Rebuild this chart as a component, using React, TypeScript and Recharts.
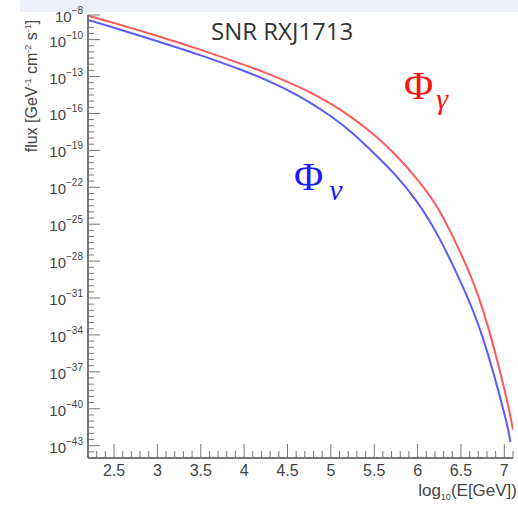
import React from 'react';
import { LineChart, Line, XAxis, YAxis } from 'recharts';

// values: log10(E/GeV) and log10(flux)
const gammaEnergy = [2.2, 2.5, 3, 3.5, 4, 4.25, 4.5, 4.75, 5, 5.25, 5.5, 5.75, 6, 6.25, 6.5, 6.75, 7, 7.1];
const gammaFlux = [-8.05, -8.65, -9.7, -10.83, -12.05, -12.7, -13.43, -14.25, -15.23, -16.38, -17.75, -19.4, -21.4, -23.9, -27.4, -31.9, -38.4, -41.7];
const nuEnergy = [2.2, 2.5, 3, 3.5, 4, 4.25, 4.5, 4.75, 5, 5.25, 5.5, 5.75, 6, 6.25, 6.5, 6.75, 7, 7.07];
const nuFlux = [-8.4, -9.03, -10.13, -11.28, -12.55, -13.28, -14.1, -15.08, -16.23, -17.6, -19.25, -21.05, -23.25, -26.13, -29.75, -34.2, -40.4, -42.7];

const xLabels = [2.5, 3, 3.5, 4, 4.5, 5, 5.5, 6, 6.5, 7];
const yLabels = [-8, -10, -13, -16, -19, -22, -25, -28, -31, -34, -37, -40, -43];

const X_MIN = 2.2;
const X_MAX = 7.1;
const Y_MIN = -44;
const Y_MAX = -8;

const gammaData = gammaEnergy.map((e, i) => ({ e, f: gammaFlux[i] }));
const nuData = nuEnergy.map((e, i) => ({ e, f: nuFlux[i] }));

const xTicks: number[] = [];
for (let i = 22; i <= 71; i++) xTicks.push(i / 10);
const yTicks: number[] = [];
for (let i = Y_MIN * 2; i <= Y_MAX * 2; i++) yTicks.push(i / 2);

const AXIS = '#777';
const LABEL = '#444';
const SANS = 'Liberation Sans, Arial, sans-serif';

const XTick = (props: any) => {
  const { x, y, payload } = props;
  const major = xLabels.some((v) => Math.abs(v - payload.value) < 1e-6);
  return (
    <g>
      <line x1={x} x2={x} y1={y} y2={y - (major ? 14 : 7)} stroke={AXIS} strokeWidth={1} />
      {major && (
        <text x={x} y={y + 18} textAnchor="middle" fontSize={16} fill={LABEL} fontFamily={SANS}>
          {payload.value}
        </text>
      )}
    </g>
  );
};

const YTick = (props: any) => {
  const { x, y, payload } = props;
  const major = yLabels.includes(payload.value);
  return (
    <g>
      <line x1={x} x2={x + (major ? 12 : 6)} y1={y} y2={y} stroke={AXIS} strokeWidth={1} />
      {major && (
        <text x={x - 5} y={y + 7} textAnchor="end" fontSize={15} fill={LABEL} fontFamily={SANS}>
          10
          <tspan fontSize={10} dy={-8}>{'\u2212' + Math.abs(payload.value)}</tspan>
        </text>
      )}
    </g>
  );
};

const App: React.FC = () => {
  return (
    <div style={{ position: 'absolute', left: 0, top: 0, width: 518, height: 507, background: '#fff' }}>
      <div style={{ position: 'absolute', left: 20, top: 0, width: 498, height: 12, background: '#eef0f8' }} />
      <LineChart
        width={518}
        height={507}
        margin={{ top: 15, right: 5, left: 0, bottom: 0 }}
        style={{ position: 'absolute', left: 0, top: 0 }}
      >
        <XAxis
          dataKey="e"
          type="number"
          domain={[X_MIN, X_MAX]}
          ticks={xTicks}
          interval={0}
          allowDataOverflow
          height={49}
          tickSize={0}
          tickMargin={0}
          tickLine={false}
          axisLine={{ stroke: AXIS, strokeWidth: 2 }}
          tick={<XTick />}
        />
        <XAxis
          xAxisId="top"
          orientation="top"
          type="number"
          domain={[X_MIN, X_MAX]}
          height={0}
          tick={false}
          tickLine={false}
          axisLine={{ stroke: '#aaa', strokeWidth: 1.5 }}
        />
        <YAxis
          dataKey="f"
          type="number"
          domain={[Y_MIN, Y_MAX]}
          ticks={yTicks}
          interval={0}
          allowDataOverflow
          width={88}
          tickSize={0}
          tickMargin={0}
          tickLine={false}
          axisLine={{ stroke: AXIS, strokeWidth: 2 }}
          tick={<YTick />}
        />
        <YAxis
          yAxisId="right"
          orientation="right"
          type="number"
          domain={[Y_MIN, Y_MAX]}
          width={0}
          tick={false}
          tickLine={false}
          axisLine={{ stroke: '#aaa', strokeWidth: 1.5 }}
        />
        <Line
          data={gammaData}
          dataKey="f"
          type="natural"
          stroke="#ff5a5a"
          strokeWidth={2}
          dot={false}
          isAnimationActive={false}
        />
        <Line
          data={nuData}
          dataKey="f"
          type="natural"
          stroke="#5a5aff"
          strokeWidth={2}
          dot={false}
          isAnimationActive={false}
        />
      </LineChart>

      <div
        style={{
          position: 'absolute',
          left: 32,
          top: 86,
          transform: 'translate(-50%, -50%) rotate(-90deg)',
          whiteSpace: 'nowrap',
          fontFamily: SANS,
          fontSize: 16,
          color: LABEL,
        }}
      >
        flux [GeV<sup style={{ fontSize: 9 }}>-1</sup> cm<sup style={{ fontSize: 9 }}>-2</sup> s<sup style={{ fontSize: 9 }}>-1</sup>]
      </div>

      <div
        style={{
          position: 'absolute',
          right: 1,
          top: 481,
          whiteSpace: 'nowrap',
          fontFamily: SANS,
          fontSize: 17,
          color: LABEL,
        }}
      >
        log<sub style={{ fontSize: 9 }}>10</sub>(E[GeV])
      </div>

      <div
        style={{
          position: 'absolute',
          left: 211,
          top: 14,
          whiteSpace: 'nowrap',
          fontFamily: 'Open Sans, sans-serif',
          fontSize: 24,
          color: '#333',
        }}
      >
        SNR RXJ1713
      </div>

      <div
        style={{
          position: 'absolute',
          left: 404,
          top: 66,
          whiteSpace: 'nowrap',
          fontFamily: 'Liberation Serif, serif',
          fontSize: 40,
          color: '#ff1010',
          lineHeight: 1,
        }}
      >
        Φ<span style={{ fontStyle: 'italic', fontSize: 30, position: 'relative', top: 10, marginLeft: 3 }}>γ</span>
      </div>

      <div
        style={{
          position: 'absolute',
          left: 294,
          top: 157,
          whiteSpace: 'nowrap',
          fontFamily: 'Liberation Serif, serif',
          fontSize: 40,
          color: '#1a1aff',
          lineHeight: 1,
        }}
      >
        Φ<span style={{ fontStyle: 'italic', fontSize: 30, position: 'relative', top: 10, marginLeft: 6 }}>ν</span>
      </div>
    </div>
  );
};

export default App;
